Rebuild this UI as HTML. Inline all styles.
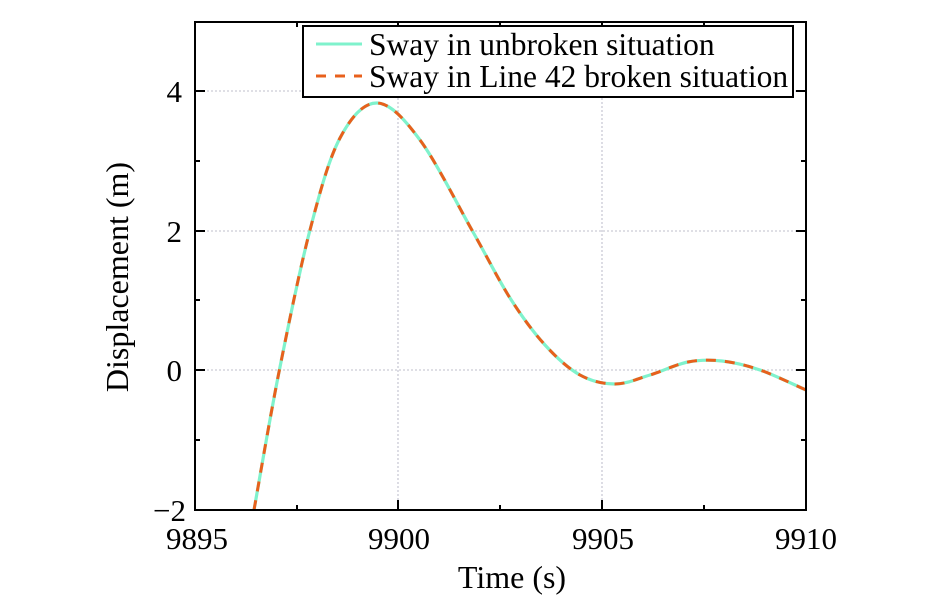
<!DOCTYPE html>
<html><head><meta charset="utf-8"><style>
body{margin:0;background:#fff}
svg text{font-family:"Liberation Serif",serif;fill:#000}
</style></head><body>
<svg width="946" height="598" viewBox="0 0 946 598" xmlns="http://www.w3.org/2000/svg">
<g stroke="#aab" stroke-width="0.8" stroke-dasharray="2,2">
<line x1="195" y1="91" x2="806" y2="91"/>
<line x1="195" y1="231" x2="806" y2="231"/>
<line x1="195" y1="370" x2="806" y2="370"/>
<line x1="398" y1="22" x2="398" y2="510"/>
<line x1="602" y1="22" x2="602" y2="510"/>
</g>
<g fill="none" stroke-linejoin="round">
<path id="c1" d="" stroke="#7ff2cc" stroke-width="3.2"/>
<path id="c2" d="" stroke="#e8601c" stroke-width="3" stroke-dasharray="10,9"/>
</g>
<rect x="195" y="22" width="611" height="488" fill="none" stroke="#000" stroke-width="2"/>
<g stroke="#000" stroke-width="2">
<line x1="195" y1="91" x2="205" y2="91"/><line x1="195" y1="231" x2="205" y2="231"/><line x1="195" y1="370" x2="205" y2="370"/>
<line x1="195" y1="161" x2="200" y2="161"/><line x1="195" y1="300" x2="200" y2="300"/><line x1="195" y1="440" x2="200" y2="440"/>
<line x1="806" y1="91" x2="796" y2="91"/><line x1="806" y1="231" x2="796" y2="231"/><line x1="806" y1="370" x2="796" y2="370"/>
<line x1="806" y1="161" x2="801" y2="161"/><line x1="806" y1="300" x2="801" y2="300"/><line x1="806" y1="440" x2="801" y2="440"/>
<line x1="398" y1="510" x2="398" y2="500"/><line x1="602" y1="510" x2="602" y2="500"/>
<line x1="297" y1="510" x2="297" y2="505"/><line x1="500" y1="510" x2="500" y2="505"/><line x1="704" y1="510" x2="704" y2="505"/>
<line x1="398" y1="22" x2="398" y2="32"/><line x1="602" y1="22" x2="602" y2="32"/>
<line x1="297" y1="22" x2="297" y2="27"/><line x1="500" y1="22" x2="500" y2="27"/><line x1="704" y1="22" x2="704" y2="27"/>
</g>
<rect x="303" y="26" width="490" height="71" fill="#fff" stroke="#000" stroke-width="2"/>
<line x1="316" y1="44" x2="362" y2="44" stroke="#7ff2cc" stroke-width="3"/>
<line x1="316" y1="76" x2="362" y2="76" stroke="#e8601c" stroke-width="3" stroke-dasharray="10,9"/>
<text x="369" y="55" font-size="31.5">Sway in unbroken situation</text>
<text x="369" y="87" font-size="31.5">Sway in Line 42 broken situation</text>
<g font-size="31" text-anchor="end">
<text x="182" y="102">4</text><text x="182" y="242">2</text><text x="182" y="381">0</text><text x="186" y="521">−2</text>
</g>
<g font-size="31" text-anchor="middle">
<text x="197" y="549">9895</text><text x="399" y="549">9900</text><text x="603" y="549">9905</text><text x="806" y="549">9910</text>
</g>
<text x="512" y="588" font-size="32" text-anchor="middle">Time (s)</text>
<text transform="translate(128,277) rotate(-90)" font-size="32" text-anchor="middle">Displacement (m)</text>
</svg>
<script>
var p=[[254,510],[279,372],[310,230],[340,138],[377,103],[420,140],[473,232],[510,298],[545,345],[580,375],[615,384],[650,375],[688,362],[722,361],[760,370],[806,390]];
var d="M"+p[0][0]+","+p[0][1];
for(var i=0;i<p.length-1;i++){var a=p[i-1]||p[i],b=p[i],c=p[i+1],e=p[i+2]||p[i+1];
d+=" C"+(b[0]+(c[0]-a[0])/6)+","+(b[1]+(c[1]-a[1])/6)+" "+(c[0]-(e[0]-b[0])/6)+","+(c[1]-(e[1]-b[1])/6)+" "+c[0]+","+c[1];}
document.getElementById("c1").setAttribute("d",d);document.getElementById("c2").setAttribute("d",d);
</script>
</body></html>
